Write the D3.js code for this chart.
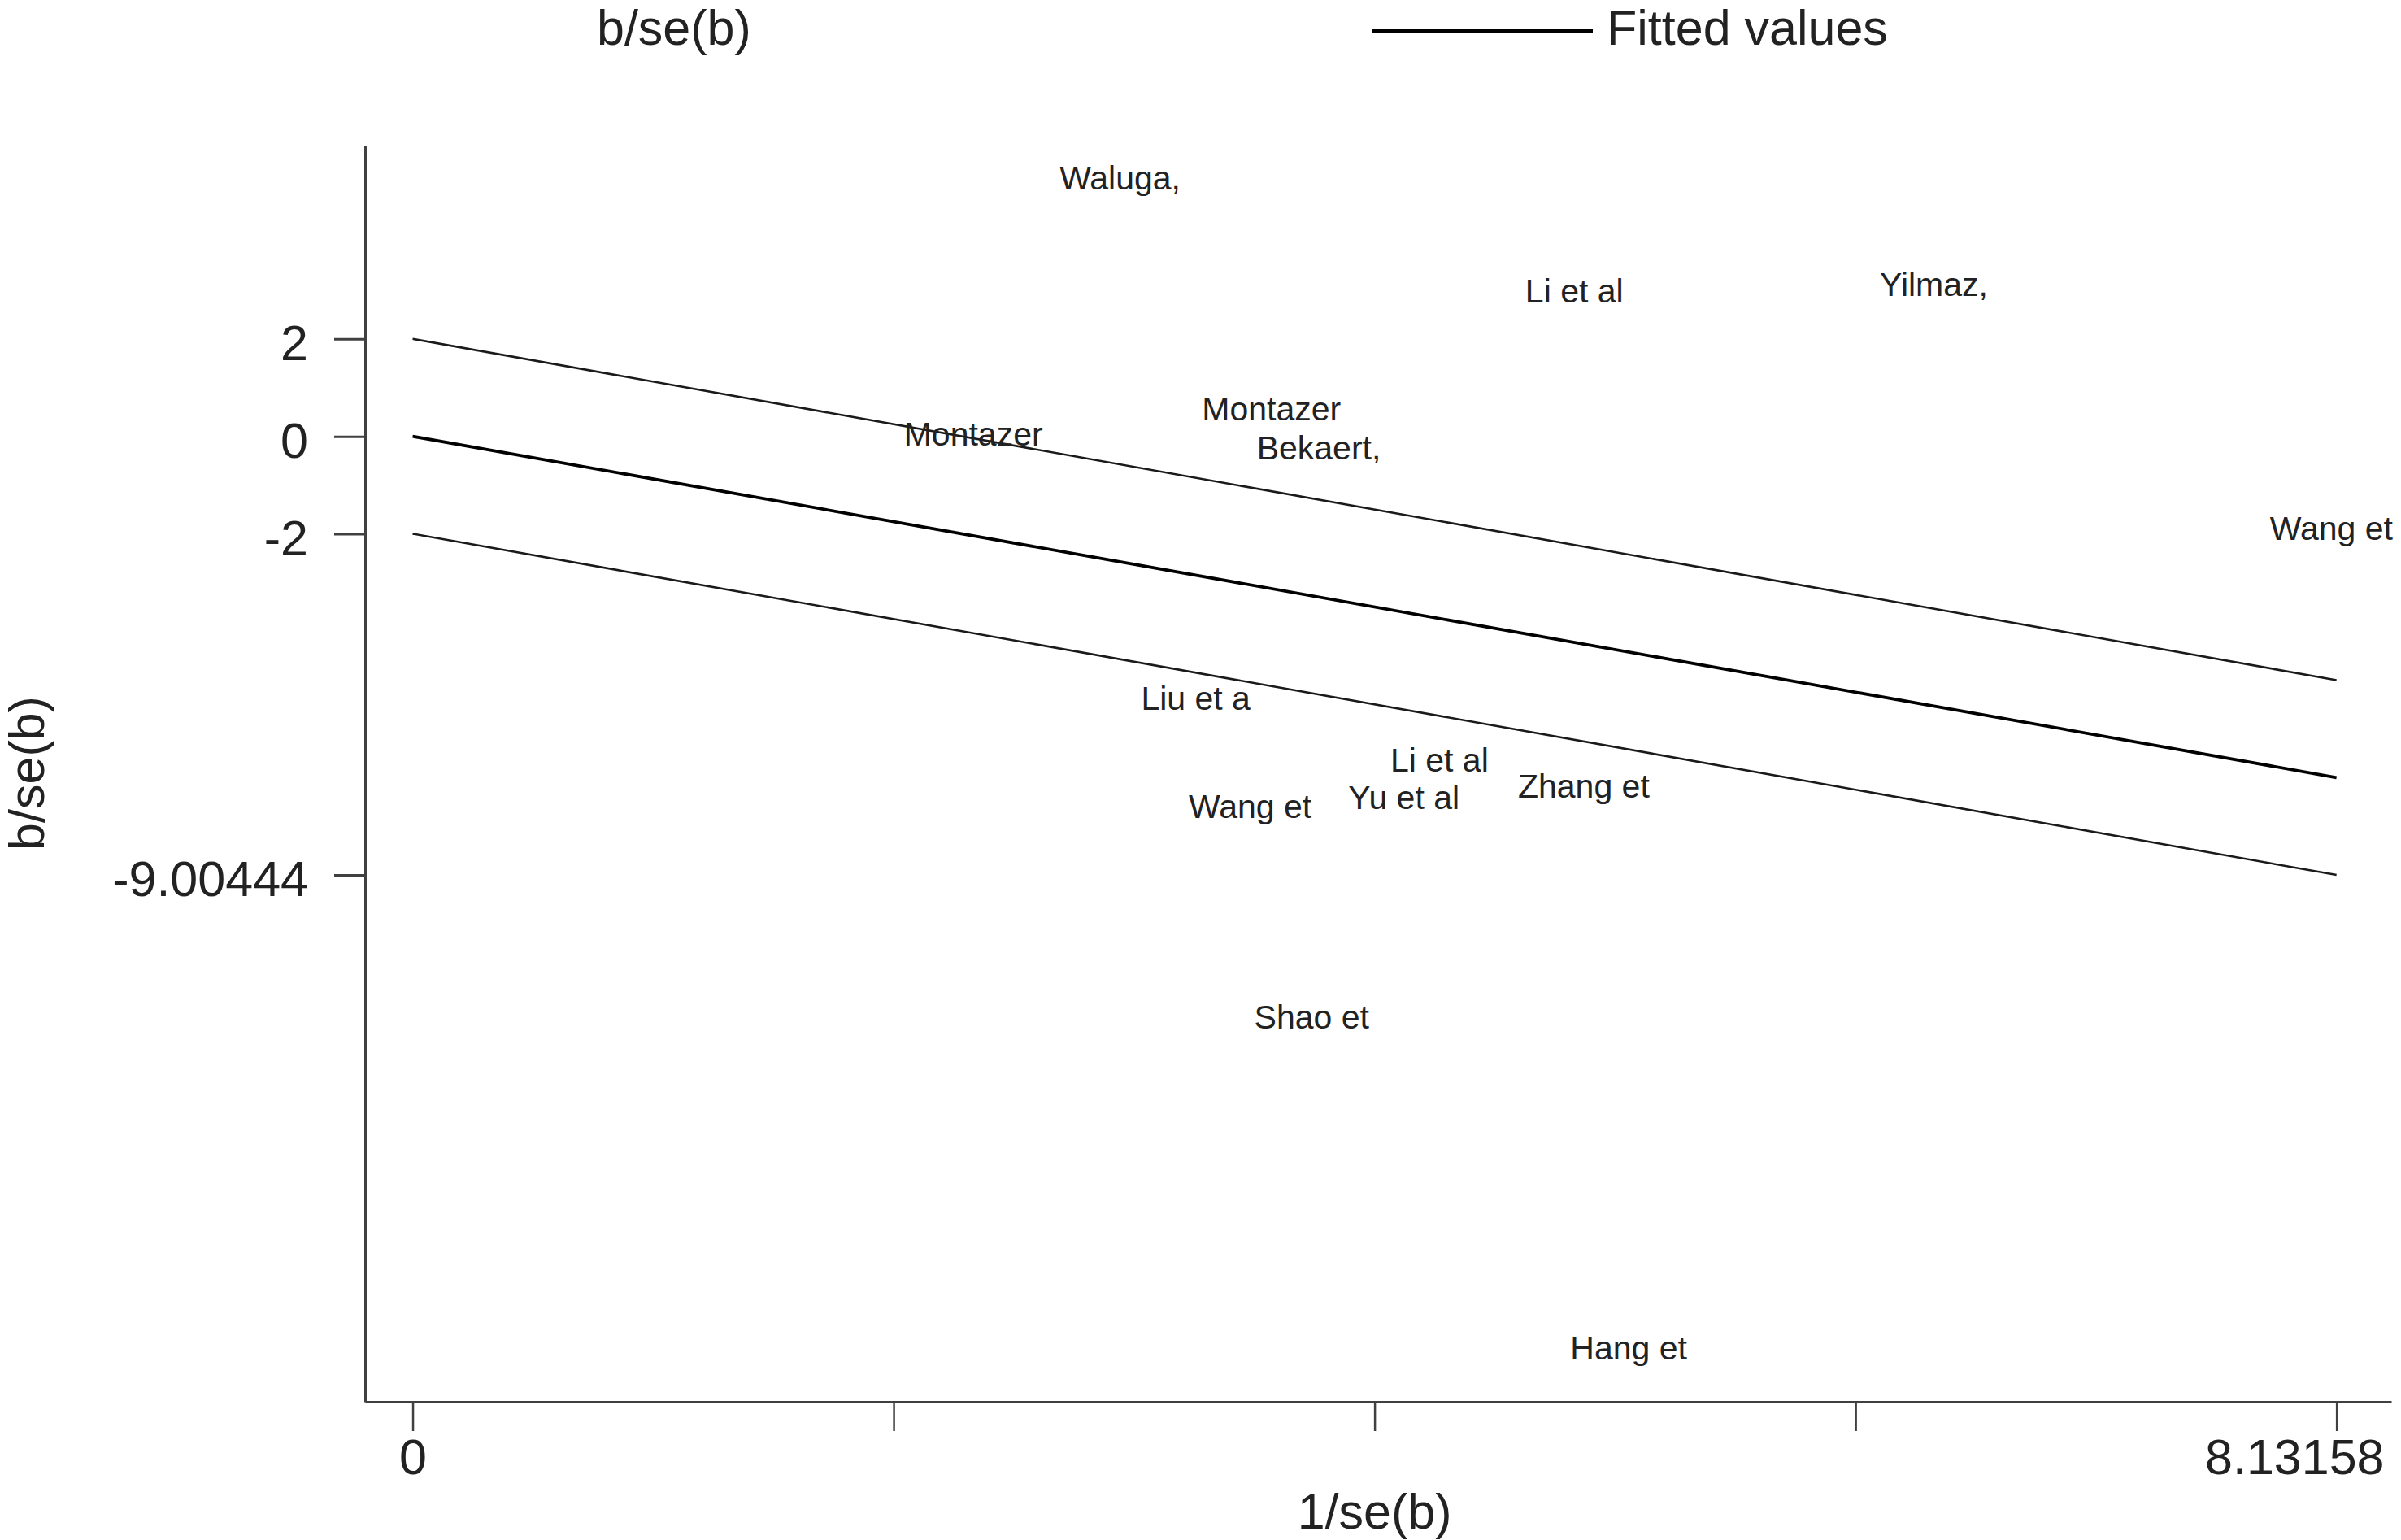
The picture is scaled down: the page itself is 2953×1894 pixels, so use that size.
<!DOCTYPE html>
<html>
<head>
<meta charset="utf-8">
<script src="https://cdn.jsdelivr.net/npm/d3@7"></script>
<style>
  html, body { margin: 0; padding: 0; background: #fff; }
  svg { display: block; }
  text { font-family: "Liberation Sans", Arial, Helvetica, sans-serif; fill: #222; }
</style>
</head>
<body>
<svg id="chart" width="2953" height="1894"></svg>
<script>
// ---- data ----
const studies = ["Waluga,", "Li et al", "Yilmaz,", "Montazer", "Montazer", "Bekaert,", "Wang et",
                 "Liu et a", "Li et al", "Zhang et", "Yu et al", "Wang et", "Shao et", "Hang et"];
const precision = [2.99, 4.91, 6.43, 2.37, 3.63, 3.83, 8.11,
                   3.31, 4.34, 4.95, 4.19, 3.54, 3.80, 5.14];          // 1/se(b)
const zscore = [5.32, 3.00, 3.12, 0.06, 0.58, -0.22, -1.88,
                -5.37, -6.63, -7.17, -7.40, -7.59, -11.91, -18.70];     // b/se(b)

const lineX = [0, 8.13158];
const fittedY = [0, -7.00444];
const upperY = [2, -5.00444];
const lowerY = [-2, -9.00444];

const yTickValues = [2, 0, -2, -9.00444];
const yTickLabels = ["2", "0", "-2", "-9.00444"];
const xTickValues = [0, 2.032895, 4.06579, 6.098685, 8.13158];
const xTickLabels = ["0", "", "", "", "8.13158"];

const legendLabels = ["b/se(b)", "Fitted values"];
const xTitle = "1/se(b)";
const yTitle = "b/se(b)";

// ---- layout ----
const svg = d3.select("#chart");
const axisColor = "#404040";

const x = d3.scaleLinear().domain([-0.2012, 8.363]).range([449, 2941]);
const y = d3.scaleLinear().domain([-19.82, 5.97]).range([1724, 179]);

// lines
const lineGen = d3.line().x(d => x(d[0])).y(d => y(d[1]));
const series = [
  { ys: upperY, w: 2.6, c: "#1a1a1a" },
  { ys: lowerY, w: 2.6, c: "#1a1a1a" },
  { ys: fittedY, w: 3.8, c: "#000" }
];
svg.append("g").selectAll("path").data(series).join("path")
  .attr("d", s => lineGen(lineX.map((xv, i) => [xv, s.ys[i]])))
  .attr("fill", "none")
  .attr("stroke", s => s.c)
  .attr("stroke-width", s => s.w);

// y axis
const yAxis = d3.axisLeft(y)
  .tickValues(yTickValues)
  .tickFormat((d, i) => yTickLabels[i])
  .tickSize(38).tickSizeOuter(0).tickPadding(32);
const gy = svg.append("g").attr("transform", "translate(449,0)").call(yAxis);
gy.select(".domain").attr("stroke", axisColor).attr("stroke-width", 3);
gy.selectAll(".tick line").attr("stroke", axisColor).attr("stroke-width", 3);
gy.selectAll(".tick text")
  .attr("font-size", 61).attr("dy", "0.42em")
  .attr("font-family", "Liberation Sans, Arial, sans-serif").attr("fill", "#222");

// x axis
const xAxis = d3.axisBottom(x)
  .tickValues(xTickValues)
  .tickFormat((d, i) => xTickLabels[i])
  .tickSize(36).tickSizeOuter(0);
const gx = svg.append("g").attr("transform", "translate(0,1724)").call(xAxis);
gx.select(".domain").attr("stroke", axisColor).attr("stroke-width", 3);
gx.selectAll(".tick line").attr("stroke", axisColor).attr("stroke-width", 2.5);
gx.selectAll(".tick text")
  .attr("font-size", 61).attr("y", 89).attr("dy", 0)
  .attr("font-family", "Liberation Sans, Arial, sans-serif").attr("fill", "#222");
// last label kept inside the picture, as in the reference
gx.selectAll(".tick").filter((d, i) => i === xTickValues.length - 1).select("text")
  .attr("text-anchor", "end").attr("x", 2932 - x(xTickValues[xTickValues.length - 1]));

// study labels (centered on points)
svg.append("g").selectAll("text").data(studies).join("text")
  .attr("x", (d, i) => x(precision[i]))
  .attr("y", (d, i) => y(zscore[i]))
  .attr("dy", "0.36em")
  .attr("text-anchor", "middle")
  .attr("font-size", 41)
  .text(d => d);

// axis titles
svg.append("text")
  .attr("x", (x(0) + x(8.13158)) / 2).attr("y", 1880)
  .attr("text-anchor", "middle").attr("font-size", 61)
  .text(xTitle);
svg.append("text")
  .attr("transform", "translate(54,951) rotate(-90)")
  .attr("text-anchor", "middle").attr("font-size", 61)
  .text(yTitle);

// legend
const lg = svg.append("g");
lg.append("text").attr("x", 734).attr("y", 55).attr("font-size", 61).text(legendLabels[0]);
lg.append("line").attr("x1", 1688).attr("x2", 1959).attr("y1", 38).attr("y2", 38)
  .attr("stroke", "#000").attr("stroke-width", 4);
lg.append("text").attr("x", 1976).attr("y", 55).attr("font-size", 61).text(legendLabels[1]);
</script>
</body>
</html>
